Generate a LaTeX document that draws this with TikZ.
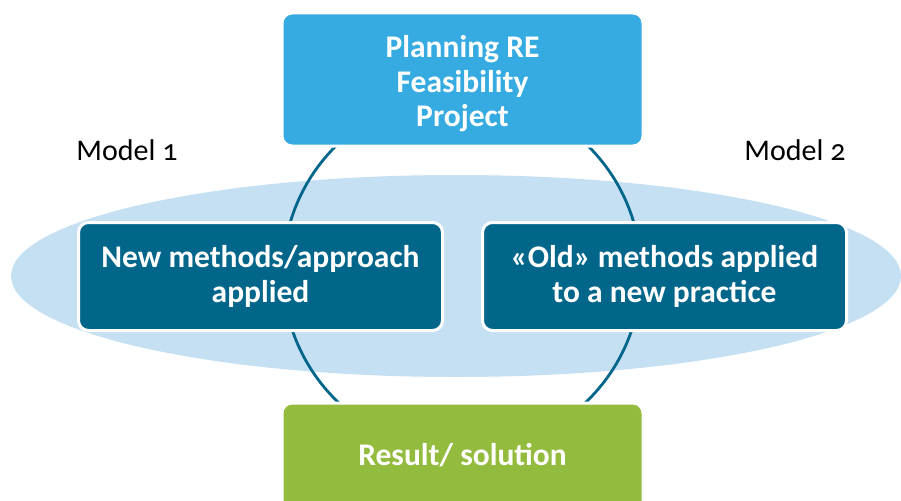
\documentclass[tikz,border=0pt]{standalone}
\usepackage{fontspec}
\setmainfont{Carlito}[Numbers=OldStyle]
\definecolor{topblue}{HTML}{36ABE1}
\definecolor{ellblue}{HTML}{C5DFF3}
\definecolor{darkblue}{HTML}{02668B}
\definecolor{leafgreen}{HTML}{93BB3D}
\begin{document}
\begin{tikzpicture}[x=1pt,y=-1pt,
  box/.style={rounded corners=10pt, draw=white, line width=3pt, text=white,
    font=\fontsize{31.5}{34.5}\selectfont\bfseries, align=center, inner sep=0pt},
  boxtxt/.style={text=white, font=\fontsize{31.5}{34.5}\selectfont\bfseries, align=center, inner sep=0pt},
  lbl/.style={font=\fontsize{30}{34}\selectfont, text=black}]
\useasboundingbox (0,0) rectangle (901,500);
\begin{scope}
\clip (0,0) rectangle (901,500);
\fill[ellblue] (456,276) ellipse [x radius=445, y radius=101];
\draw[darkblue, line width=2.8pt] (462,273) circle [radius=179];
\node[box, fill=topblue, minimum width=361pt, minimum height=133pt] (top) at (462.5,79.5) {};
\node[boxtxt] (toptxt) at (462.5,84) {Planning RE\\Feasibility\\Project};
\node[box, fill=leafgreen, minimum width=361pt, minimum height=133pt] (bot) at (462.5,469.5) {};
\node[boxtxt] (bottxt) at (462.5,455) {Result/ solution};
\node[box, fill=darkblue, minimum width=364pt, minimum height=108pt] (left) at (260.5,276.5)
  {New methods/approach\\applied};
\node[box, fill=darkblue, minimum width=364pt, minimum height=108pt] (right) at (664.5,276.5)
  {«Old» methods applied\\to a new practice};
\end{scope}
\node[lbl] (m1) at (127,150) {Model 1};
\node[lbl] (m2) at (795,150) {Model 2};
\end{tikzpicture}
\end{document}
